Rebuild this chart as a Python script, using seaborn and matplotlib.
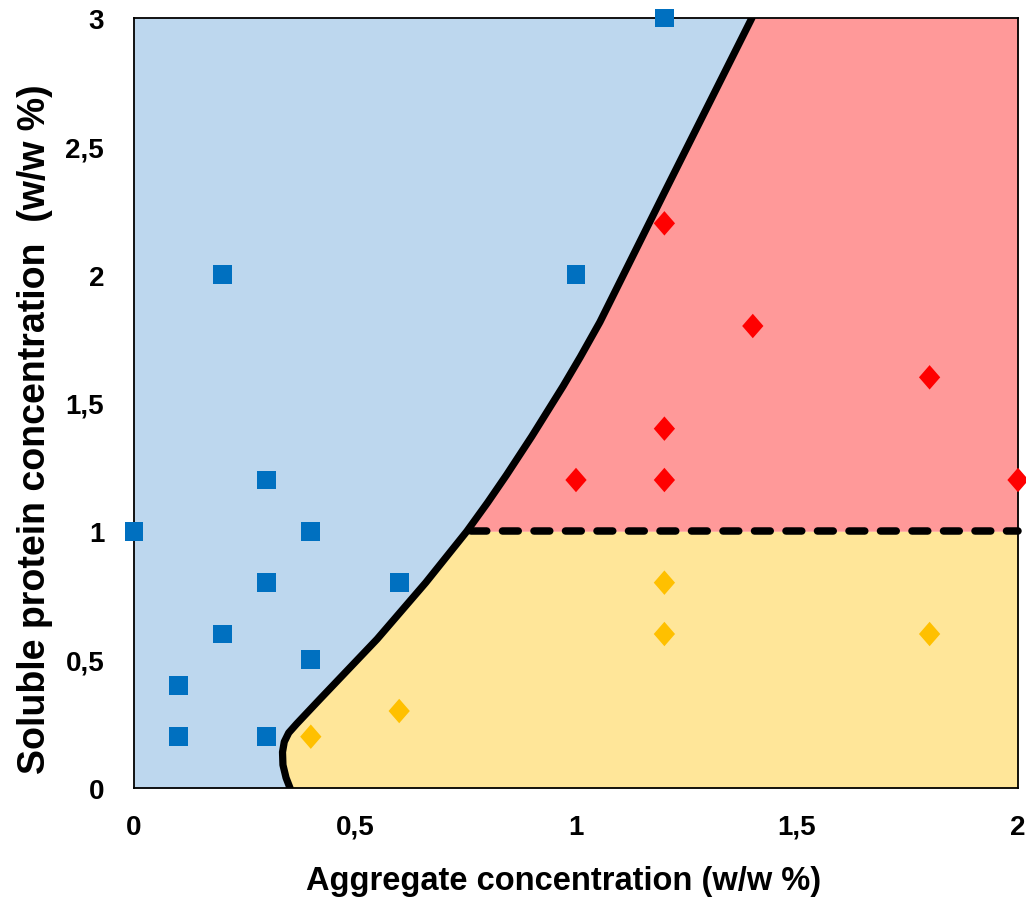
import numpy as np
import matplotlib
matplotlib.use("Agg")
import matplotlib.pyplot as plt
import seaborn as sns

# stable (blue), gel above 1 % (red), gel below 1 % (yellow)
blue_x = [0.0, 0.1, 0.1, 0.2, 0.2, 0.3, 0.3, 0.3, 0.4, 0.4, 0.6, 1.0, 1.2]
blue_y = [1.0, 0.2, 0.4, 0.6, 2.0, 0.2, 0.8, 1.2, 0.5, 1.0, 0.8, 2.0, 3.0]
red_x = [1.0, 1.2, 1.2, 1.2, 1.4, 1.8, 2.0]
red_y = [1.2, 1.2, 1.4, 2.2, 1.8, 1.6, 1.2]
yellow_x = [0.4, 0.6, 1.2, 1.2, 1.8]
yellow_y = [0.2, 0.3, 0.6, 0.8, 0.6]

# hand-drawn phase boundary
boundary_x = [0.353, 0.344, 0.337, 0.336, 0.340, 0.350, 0.368, 0.42, 0.55, 0.66, 0.753,
              0.80, 0.843, 0.90, 0.971, 1.01, 1.054, 1.20, 1.398]
boundary_y = [0.0, 0.04, 0.09, 0.14, 0.18, 0.215, 0.25, 0.345, 0.58, 0.80, 1.0,
              1.112, 1.22, 1.37, 1.566, 1.68, 1.815, 2.32, 3.0]
split_y = 1.0

x_ticks = [0, 0.5, 1, 1.5, 2]
x_labels = ["0", "0,5", "1", "1,5", "2"]
y_ticks = [0, 0.5, 1, 1.5, 2, 2.5, 3]
y_labels = ["0", "0,5", "1", "1,5", "2", "2,5", "3"]

sns.set_theme(style="white")
plt.rcParams['font.family'] = ['Liberation Sans', 'DejaVu Sans']

fig = plt.figure(figsize=(10.26, 9.04), dpi=100)
ax = fig.add_axes([0.1306, 0.1272, 0.8616, 0.8518])

bx = np.array(boundary_x)
by = np.array(boundary_y)
ax.fill_betweenx(by, 0, bx, color="#BDD7EE", lw=0)
upper = by >= split_y
lower = by <= split_y
ax.fill_betweenx(by[upper], bx[upper], 2, color="#FF9999", lw=0)
ax.fill_betweenx(by[lower], bx[lower], 2, color="#FFE699", lw=0)

sns.lineplot(x=boundary_x, y=boundary_y, sort=False, estimator=None,
             color="black", lw=5.2, ax=ax, zorder=3)
ax.plot([bx[lower][-1] + 0.01, 2], [split_y, split_y], color="black", lw=5.4,
        ls=(0, (2.1, 2.1)), dash_capstyle="round", zorder=3, clip_on=False)

diamond = [(0, 1), (0.87, 0), (0, -1), (-0.87, 0)]
sns.scatterplot(x=blue_x, y=blue_y, marker="s", s=185, color="#0070C0",
                edgecolor="none", ax=ax, zorder=4, clip_on=False)
sns.scatterplot(x=red_x, y=red_y, marker=diamond, s=310, color="#FF0000",
                edgecolor="none", ax=ax, zorder=4, clip_on=False)
sns.scatterplot(x=yellow_x, y=yellow_y, marker=diamond, s=310, color="#FFC000",
                edgecolor="none", ax=ax, zorder=4, clip_on=False)

ax.set_xlim(0, 2)
ax.set_ylim(0, 3)
ax.set_xticks(x_ticks)
ax.set_xticklabels(x_labels)
ax.set_yticks(y_ticks)
ax.set_yticklabels(y_labels)
ax.tick_params(axis="both", direction="out", length=6.5, width=1.2, color="black",
               labelsize=20, labelcolor="black")
ax.tick_params(axis="x", pad=12)
ax.tick_params(axis="y", pad=15)
for lab in ax.get_xticklabels() + ax.get_yticklabels():
    lab.set_fontweight("bold")
for sp in ax.spines.values():
    sp.set_color("black")
    sp.set_linewidth(1.3)
ax.set_xlabel("Aggregate concentration (w/w %)", fontsize=23.5, fontweight="bold",
              color="black")
ax.set_ylabel("Soluble protein concentration  (w/w %)", fontsize=27, fontweight="bold",
              color="black")
ax.xaxis.set_label_coords(0.4864, -0.100)
ax.yaxis.set_label_coords(-0.0916, 0.4675)

fig.savefig("out.png", dpi=100)
